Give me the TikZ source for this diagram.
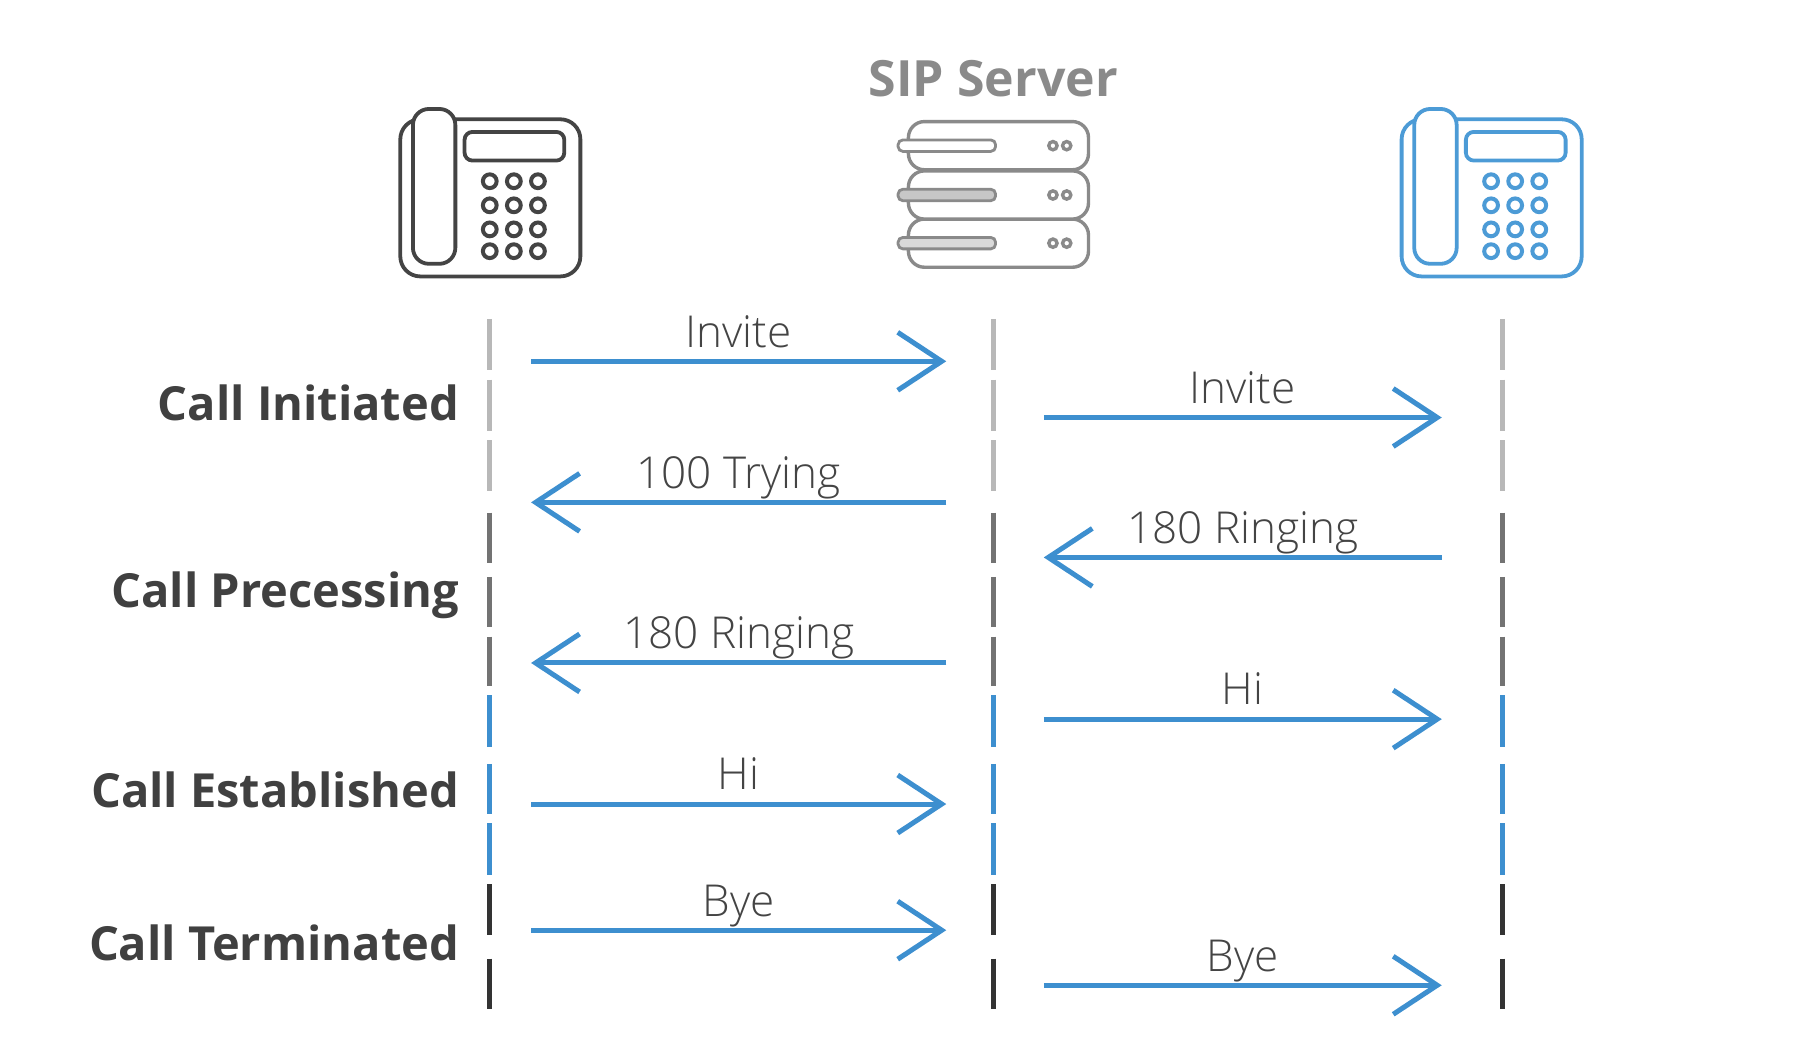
\documentclass[tikz,border=0pt]{standalone}
\usepackage{xcolor}
\usepackage{fontspec}
\setmainfont{Open Sans}
\newfontfamily\lightfont{Open Sans Light}
\usetikzlibrary{arrows.meta,positioning,calc}

\definecolor{msgblue}{HTML}{3D8FCF}
\definecolor{phoneblue}{HTML}{4C9BD6}
\definecolor{phonedark}{HTML}{444444}
\definecolor{servergray}{HTML}{8A8A8A}
\definecolor{textdark}{HTML}{404040}
\definecolor{textlight}{HTML}{444444}

\tikzset{
    pics/phone/.style={code={
        \draw[#1, line width=1.9pt, rounded corners=10pt] (0,0) rectangle (157,137);
        \draw[#1, line width=1.9pt, rounded corners=8pt, fill=white] (11,-9) rectangle (48,126);
        \draw[#1, line width=1.9pt, rounded corners=4pt] (56,11) rectangle (143,36);
        \foreach \kx in {78,99,120} {
            \foreach \ky in {54,75,96,115} {
                \draw[#1, line width=2pt] (\kx,\ky) circle[radius=6];
            }
        }
    }},
    pics/serverunit/.style={code={
        \draw[servergray, line width=1.7pt, rounded corners=8pt, fill=white] (9,-21) rectangle (166,21);
        \draw[servergray, line width=1.4pt, rounded corners=2.4pt, fill=#1] (0,-5) rectangle (85,5);
        \draw[servergray, line width=1.7pt] (135,0) circle[radius=3.6];
        \draw[servergray, line width=1.7pt] (147,0) circle[radius=3.6];
    }}
}

\begin{document}
\begin{tikzpicture}[
    x=0.5735pt, y=-0.5735pt,
    msg/.style={-{Straight Barb[length=22pt, width=29pt, line width=2.5pt]}, msgblue, line width=2.5pt},
    msglabel/.style={midway, anchor=base, yshift=7.1pt, text=textlight, font=\lightfont\fontsize{22}{24}\selectfont},
    phase/.style={anchor=base east, text=textdark, font=\fontsize{23.5}{26}\bfseries\selectfont, inner sep=0pt},
    lifefaint/.style={line width=2.4pt, color=black!28, dash pattern=on 25.8pt off 4.6pt},
    lifegray/.style={line width=2.4pt, color=black!55, dash pattern=on 25.2pt off 6.9pt on 25.2pt off 4.6pt},
    lifeblue/.style={line width=2.4pt, color=msgblue, dash pattern=on 25.8pt off 8.6pt on 25.2pt off 4.6pt},
    lifeblack/.style={line width=2.4pt, color=black!80, dash pattern=on 25.2pt off 12pt}
]
    \useasboundingbox (0,0) rectangle (1567.6,924.2);

    % phones and server
    \pic at (349,104) {phone=phonedark};
    \pic at (1222,104) {phone=phoneblue};
    \pic at (783,212) {serverunit=black!15};
    \pic at (783,170) {serverunit=black!22};
    \pic at (783,127) {serverunit=white};
    \node[anchor=base, text=servergray, font=\fontsize{25}{28}\bfseries\selectfont, inner sep=0pt] (server) at (866,84) {SIP Server};

    % lifelines
    \foreach \lname/\lx in {left/427,mid/866,right/1310} {
        \foreach \pnum/\ya/\yb/\sty in {1/278/428/lifefaint,2/447/598/lifegray,3/606/764/lifeblue,4/771/880/lifeblack} {
            \coordinate (\lname\pnum top) at (\lx,\ya);
            \coordinate (\lname\pnum end) at (\lx,\yb);
            \draw[\sty] (\lname\pnum top) -- (\lname\pnum end);
        }
    }

    % message ends
    \foreach \mname/\my in {a/315,b/364,c/438,d/486,e/578,f/627,g/701,h/811,i/859} {
        \coordinate (\mname1) at (463,\my);
        \coordinate (\mname2) at (825,\my);
        \coordinate (\mname3) at (910,\my);
        \coordinate (\mname4) at (1257,\my);
    }

    \draw[msg] (a1) -- node[msglabel] (inviteA) {Invite} (a2);
    \draw[msg] (b3) -- node[msglabel] (inviteB) {Invite} (b4);
    \draw[msg] (c2) -- node[msglabel] (trying) {100 Trying} (c1);
    \draw[msg] (d4) -- node[msglabel] (ringB) {180 Ringing} (d3);
    \draw[msg] (e2) -- node[msglabel] (ringA) {180 Ringing} (e1);
    \draw[msg] (f3) -- node[msglabel] (hiB) {Hi} (f4);
    \draw[msg] (g1) -- node[msglabel] (hiA) {Hi} (g2);
    \draw[msg] (h1) -- node[msglabel] (byeA) {Bye} (h2);
    \draw[msg] (i3) -- node[msglabel] (byeB) {Bye} (i4);

    % phase names
    \node[phase] (initiated) at (400.5,367) {Call Initiated};
    \node[phase] (processing) at (400.5,530) {Call Precessing};
    \node[phase] (established) at (400.5,704) {Call Established};
    \node[phase] (terminated) at (400.5,837) {Call Terminated};
\end{tikzpicture}
\end{document}
